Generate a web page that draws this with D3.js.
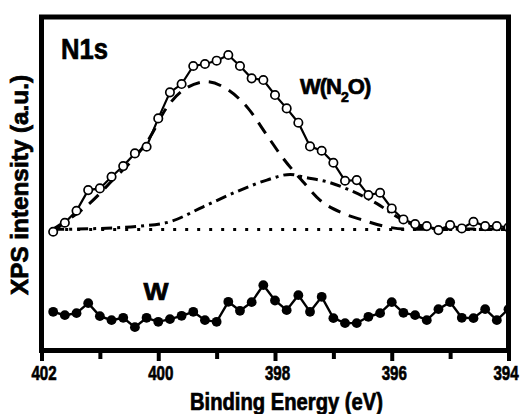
<!DOCTYPE html>
<html>
<head>
<meta charset="utf-8">
<script src="https://cdn.jsdelivr.net/npm/d3@7"></script>
<style>
  html, body { margin: 0; padding: 0; background: #fff; }
  svg { display: block; }
  text { font-family: "Liberation Sans", Arial, sans-serif; font-weight: bold; fill: #000; }
  .heavy { stroke: #000; stroke-width: 0.7px; }
</style>
</head>
<body>
<svg id="chart" width="523" height="414"></svg>
<script>
// ---- Data ----
const energies = [401.8, 401.6, 401.4, 401.2, 401.0, 400.8, 400.6, 400.4, 400.2, 400.0,
                  399.8, 399.6, 399.4, 399.2, 399.0, 398.8, 398.6, 398.4, 398.2, 398.0,
                  397.8, 397.6, 397.4, 397.2, 397.0, 396.8, 396.6, 396.4, 396.2, 396.0,
                  395.8, 395.6, 395.4, 395.2, 395.0, 394.8, 394.6, 394.4, 394.2, 394.0];
// W(N2O) measured points (open circles)
const wn2oValues = [35.6, 38.3, 41.9, 48.1, 48.6, 52.1, 55.3, 59.1, 61.1, 69.6,
                    77.4, 79.9, 85.3, 85.9, 86.9, 88.6, 85.3, 81.6, 81.1, 76.6,
                    72.6, 68.3, 61.2, 59.9, 56.3, 50.9, 51.1, 46.6, 47.3, 42.6,
                    39.3, 37.9, 37.3, 36.1, 37.6, 36.6, 38.6, 37.3, 37.3, 36.9];
// W measured points (filled circles)
const wValues = [11.6, 10.6, 11.2, 14.2, 10.3, 9.1, 9.8, 7.0, 9.8, 8.6,
                 9.4, 10.4, 11.6, 9.1, 8.6, 14.6, 11.9, 14.5, 19.6, 15.0,
                 12.1, 16.6, 11.6, 16.1, 9.7, 8.2, 8.2, 10.1, 11.2, 14.5,
                 11.3, 10.6, 9.1, 12.4, 14.5, 9.8, 9.7, 12.4, 9.1, 12.4];
// Fitted component 1 (dashed)
const peak1E = [401.8, 401.17, 400.83, 400.14, 399.86, 399.57, 399.17, 398.8, 398.46, 398.14,
                397.86, 397.52, 397.23, 396.83, 396.49, 396.14, 395.77, 395.0, 394.0];
const peak1V = [36.4, 44.2, 50.2, 64.0, 72.7, 78.1, 80.6, 78.1, 72.6, 64.6,
                57.6, 50.6, 45.1, 41.1, 39.1, 37.3, 36.4, 36.3, 36.3];
// Fitted component 2 (dash-dot)
const peak2E = [401.8, 401.0, 400.31, 399.8, 399.23, 398.66, 398.14, 397.74, 397.49, 397.11,
                396.72, 396.26, 395.86, 395.52, 395.0, 394.0];
const peak2V = [36.3, 36.6, 37.3, 38.6, 43.1, 47.6, 51.1, 52.8, 51.9, 50.6,
                48.1, 44.1, 39.6, 37.2, 36.4, 36.4];
// Background (dotted)
const bgE = [401.8, 394.0];
const bgV = [36.3, 36.3];

const xTicks = [402, 400, 398, 396, 394];
const xMinorTicks = [401, 399, 397, 395];
const xTickLabels = ["402", "400", "398", "396", "394"];

// ---- Drawing ----
const svg = d3.select("#chart");
const x = d3.scaleLinear().domain([402, 394]).range([41.5, 508.5]);
const y = d3.scaleLinear().domain([0, 100]).range([350.5, 17]);

svg.append("defs").append("clipPath").attr("id", "plotClip")
  .append("rect").attr("x", 41.5).attr("y", 17).attr("width", 467).attr("height", 333.5);

const g = svg.append("g").attr("clip-path", "url(#plotClip)");

const line = d3.line().x(d => x(d[0])).y(d => y(d[1]));
const smooth = d3.line().x(d => x(d[0])).y(d => y(d[1])).curve(d3.curveMonotoneX);

// background
g.append("path").datum(bgE.map((e, i) => [e, bgV[i]]))
  .attr("d", line).attr("fill", "none").attr("stroke", "#000")
  .attr("stroke-width", 3).attr("stroke-dasharray", "3,9");

// component 1 dashed
g.append("path").datum(peak1E.map((e, i) => [e, peak1V[i]]))
  .attr("d", smooth).attr("fill", "none").attr("stroke", "#000")
  .attr("stroke-width", 3).attr("stroke-dasharray", "13,9");

// component 2 dash-dot
g.append("path").datum(peak2E.map((e, i) => [e, peak2V[i]]))
  .attr("d", smooth).attr("fill", "none").attr("stroke", "#000")
  .attr("stroke-width", 3).attr("stroke-dasharray", "11,5,3,5");

// W(N2O) line + open circles
const wn2o = energies.map((e, i) => [e, wn2oValues[i]]);
g.append("path").datum(wn2o).attr("d", line).attr("fill", "none")
  .attr("stroke", "#000").attr("stroke-width", 2.2);
g.selectAll("circle.open").data(wn2o).join("circle").attr("class", "open")
  .attr("cx", d => x(d[0])).attr("cy", d => y(d[1])).attr("r", 4.2)
  .attr("fill", "#fff").attr("stroke", "#000").attr("stroke-width", 1.7);

// W line + filled circles
const w = energies.map((e, i) => [e, wValues[i]]);
g.append("path").datum(w).attr("d", line).attr("fill", "none")
  .attr("stroke", "#000").attr("stroke-width", 2.4);
g.selectAll("circle.filled").data(w).join("circle").attr("class", "filled")
  .attr("cx", d => x(d[0])).attr("cy", d => y(d[1])).attr("r", 4.9)
  .attr("fill", "#000");

// frame
svg.append("rect").attr("x", 41.5).attr("y", 17).attr("width", 467).attr("height", 333.5)
  .attr("fill", "none").attr("stroke", "#000").attr("stroke-width", 5);

// x axis ticks
const xAxis = d3.axisBottom(x).tickValues(xTicks).tickSize(10).tickFormat((d, i) => xTickLabels[i]);
const axG = svg.append("g").attr("transform", "translate(0,351)").call(xAxis);
axG.select(".domain").remove();
axG.selectAll(".tick line").attr("stroke", "#000").attr("stroke-width", 4);
axG.selectAll(".tick text")
  .attr("class", "heavy")
  .attr("x", 0).attr("y", 29).attr("dy", 0)
  .style("font-size", "21px").style("font-family", "'Liberation Sans', Arial, sans-serif")
  .style("font-weight", "bold").attr("fill", "#000")
  .attr("transform", (d, i) => (i === xTicks.length - 1 ? "translate(-3,0) " : "translate(2,0) ") + "scale(0.72,1)");

const minG = svg.append("g").attr("transform", "translate(0,351)")
  .call(d3.axisBottom(x).tickValues(xMinorTicks).tickSize(8).tickFormat(""));
minG.select(".domain").remove();
minG.selectAll(".tick line").attr("stroke", "#000").attr("stroke-width", 4);

// axis titles
svg.append("text").attr("class", "heavy").attr("x", 286.5).attr("y", 410).attr("text-anchor", "middle")
  .style("font-size", "23px").attr("textLength", 193).attr("lengthAdjust", "spacingAndGlyphs")
  .text("Binding Energy (eV)");

svg.append("text").attr("class", "heavy").attr("transform", "translate(28,185) rotate(-90)")
  .attr("text-anchor", "middle").style("font-size", "24px")
  .attr("textLength", 220).attr("lengthAdjust", "spacingAndGlyphs")
  .text("XPS intensity (a.u.)");

// annotations
svg.append("text").attr("class", "heavy").attr("x", 61).attr("y", 59).style("font-size", "30px")
  .attr("textLength", 47).attr("lengthAdjust", "spacingAndGlyphs").text("N1s");

const t = svg.append("text").attr("class", "heavy").attr("x", 300).attr("y", 93.5)
  .style("font-size", "22px").style("letter-spacing", "-1px");
t.append("tspan").text("W(N");
t.append("tspan").attr("dy", 8).style("font-size", "14px").text("2");
t.append("tspan").attr("dy", -8).text("O)");

svg.append("text").attr("class", "heavy").attr("x", 156).attr("y", 299.5).attr("text-anchor", "middle")
  .style("font-size", "23px").attr("textLength", 25).attr("lengthAdjust", "spacingAndGlyphs")
  .text("W");
</script>
</body>
</html>
